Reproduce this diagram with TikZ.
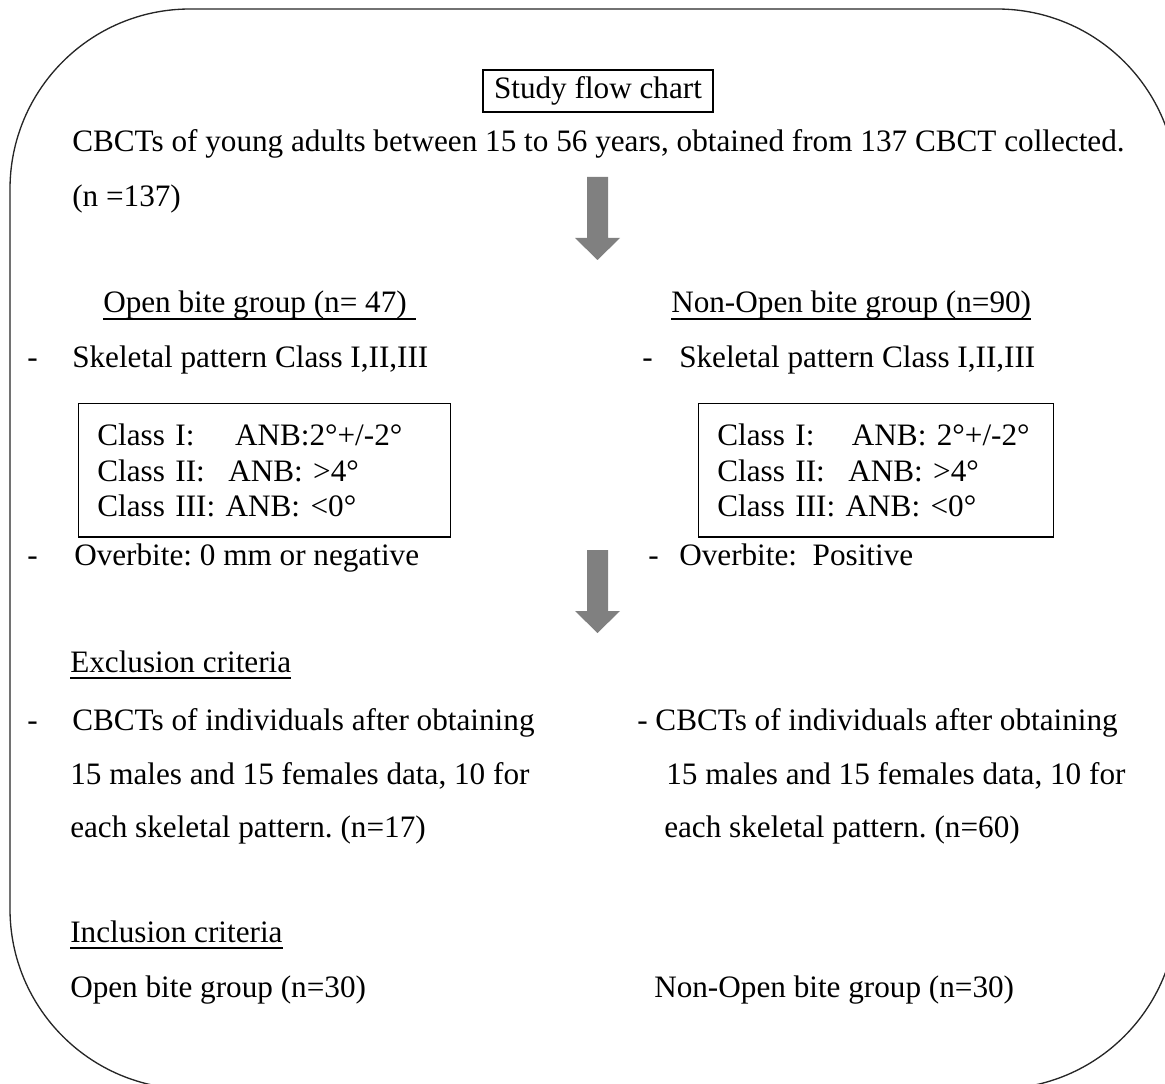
\documentclass[tikz,border=0pt]{standalone}
\usepackage{fontspec}
\setmainfont{Liberation Serif}
\definecolor{arrowgray}{RGB}{128,128,128}
\tikzset{every picture/.style={/utils/exec={\fontsize{23.4}{26.6}\selectfont\frenchspacing}}}
\usetikzlibrary{positioning}
\newcommand{\undl}[1]{\setbox0\hbox{#1}\rlap{\rule[-0.22em]{\wd0}{0.045em}}\box0}

\begin{document}
\begin{tikzpicture}[x=0.75pt, y=-0.75pt,
    txt/.style={anchor=base west, inner sep=0pt},
    clsbox/.style={draw, line width=1.1pt, anchor=north west, align=left,
      inner xsep=14pt, text width=251pt, minimum height=100pt}]
  \useasboundingbox (0,0) rectangle (1165,1084);

  \draw [line width=1pt, black!85, rounded corners=135pt] (10,9) rectangle (1177,1089);

  \node [draw, line width=1pt, minimum width=172.5pt, minimum height=31.5pt, inner sep=0pt] (title) at (598,91) {Study flow chart};
  \node [txt] (cbct) at (72,152) {CBCTs of young adults between 15 to 56 years, obtained from 137 CBCT collected.};
  \node [txt] (total) at (72,207) {(n =137)};

  \foreach \y in {177,550} {
    \fill [arrowgray] (587,\y) -- ++(21,0) -- ++(0,61) -- ++(12,0) -- ++(-22.5,22) -- ++(-22.5,-22) -- ++(12,0) -- cycle;
  }

  % groups
  \node [txt] (openhd) at (103,313) {\undl{Open bite group (n= 47)\hspace{0.3em}}};
  \node [txt] (nonhd) at (671,313) {\undl{Non-Open bite group (n=90)}};

  \node [txt] (dashL1) at (27,368) {-};
  \node [txt] (skelL) at (72,368) {Skeletal pattern Class I,II,III};
  \node [txt] (dashR1) at (642,368) {-};
  \node [txt] (skelR) at (679,368) {Skeletal pattern Class I,II,III};

  \node [clsbox] (clsL) at (78,403) {\mbox{Class I:\hspace{1.3em}ANB:2°+/-2°}\\\mbox{Class II:\hspace{0.75em}ANB: >4°}\\\mbox{Class III: ANB: <0°}};
  \node [clsbox, text width=238pt] (clsR) at (698,403) {\mbox{Class I:\hspace{1.2em}ANB: 2°+/-2°}\\\mbox{Class II:\hspace{0.75em}ANB: >4°}\\\mbox{Class III: ANB: <0°}};

  \node [txt] (dashL2) at (27,565) {-};
  \node [txt] (overL) at (74,565) {Overbite: 0 mm or negative};
  \node [txt] (dashR2) at (648,565) {-};
  \node [txt] (overR) at (679,565) {Overbite:\ \ Positive};

  % exclusion
  \node [txt] (exclhd) at (70,672) {\undl{Exclusion criteria}};
  \node [txt] (dashL3) at (27,730) {-};
  \node [txt] (exclL1) at (72,730) {CBCTs of individuals after obtaining};
  \node [txt] (exclL2) at (70,784) {15 males and 15 females data, 10 for};
  \node [txt] (exclL3) at (70,837) {each skeletal pattern. (n=17)};
  \node [txt] (exclR1) at (637,730) {- CBCTs of individuals after obtaining};
  \node [txt] (exclR2) at (666,784) {15 males and 15 females data, 10 for};
  \node [txt] (exclR3) at (664,837) {each skeletal pattern. (n=60)};

  % inclusion
  \node [txt] (inclhd) at (70,942) {\undl{Inclusion criteria}};
  \node [txt] (inclL) at (70,997) {Open bite group (n=30)};
  \node [txt] (inclR) at (654,997) {Non-Open bite group (n=30)};
\end{tikzpicture}
\end{document}
